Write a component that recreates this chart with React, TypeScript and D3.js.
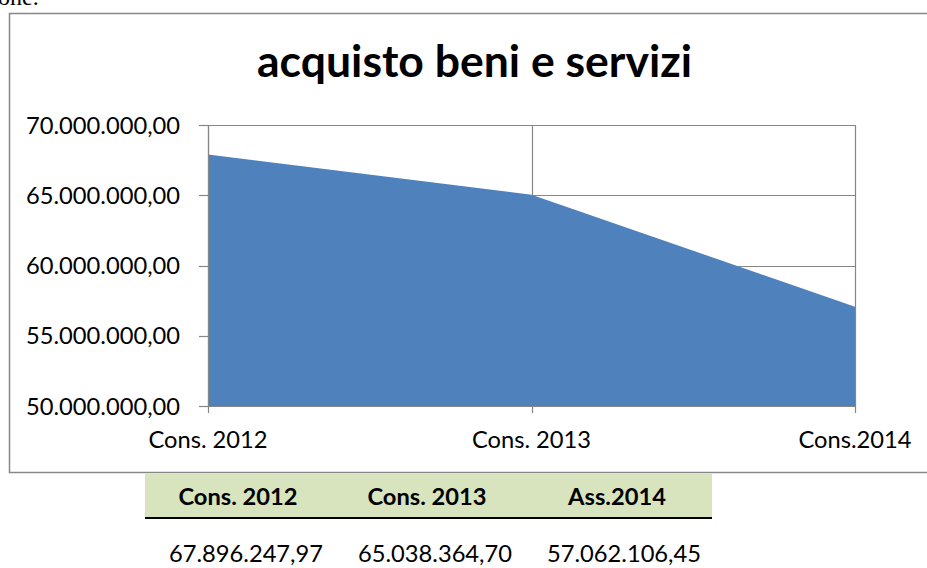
import React from "react";
import * as d3 from "d3";

const categories = ["Cons. 2012", "Cons. 2013", "Cons.2014"];
const values = [67896247.97, 65038364.7, 57062106.45];
const yTicks = [50000000, 55000000, 60000000, 65000000, 70000000];
const tableHeaders = ["Cons. 2012", "Cons. 2013", "Ass.2014"];
const tableValues = [67896247.97, 65038364.7, 57062106.45];
const title = "acquisto beni e servizi";

const itLocale = d3.formatLocale({
  decimal: ",",
  thousands: ".",
  grouping: [3],
  currency: ["", "€"],
});
const fmt = itLocale.format(",.2f");

const W = 927;
const H = 568;
const FONT = "Lato, 'Open Sans', sans-serif";
const FS = 23.7;

export default function App() {
  const plot = { left: 208, right: 855, top: 125, bottom: 406 };
  const x = d3
    .scalePoint<string>()
    .domain(categories)
    .range([plot.left, plot.right]);
  const y = d3
    .scaleLinear()
    .domain([50000000, 70000000])
    .range([plot.bottom, plot.top]);

  const area = d3
    .area<number>()
    .x((_, i) => x(categories[i]) as number)
    .y0(plot.bottom)
    .y1((d) => y(d));

  const tableCols = [238, 427, 617];
  const valueCols = [246, 435, 624];
  const grid = "#868686";

  return (
    <svg
      width={W}
      height={H}
      style={{ position: "absolute", left: 0, top: 0, background: "#fff" }}
    >
      <text
        x={-2}
        y={5}
        fontFamily="'Liberation Serif', 'Times New Roman', serif"
        fontSize={24}
        fill="#000"
      >
        one.
      </text>
      {/* chart border */}
      <path
        d={`M${W + 2},13.5 H9.5 V472.5 H${W + 2}`}
        fill="none"
        stroke="#878787"
        strokeWidth={1.5}
      />
      <text
        x={474.5}
        y={77}
        textAnchor="middle"
        fontFamily={FONT}
        fontWeight="bold"
        fontSize={44.5}
        fill="#000"
      >
        {title}
      </text>
      {/* horizontal gridlines */}
      {yTicks.map((t) => (
        <line
          key={"g" + t}
          x1={plot.left}
          x2={plot.right}
          y1={Math.round(y(t)) + 0.5}
          y2={Math.round(y(t)) + 0.5}
          stroke={grid}
          strokeWidth={1.2}
        />
      ))}
      {/* vertical gridlines */}
      {categories.map((c) => (
        <line
          key={"v" + c}
          x1={Math.round(x(c) as number) + 0.5}
          x2={Math.round(x(c) as number) + 0.5}
          y1={plot.top}
          y2={plot.bottom}
          stroke={grid}
          strokeWidth={1.2}
        />
      ))}
      <path d={area(values) || ""} fill="#4F81BD" />
      {/* axes */}
      <line
        x1={plot.left + 0.5}
        x2={plot.left + 0.5}
        y1={plot.top}
        y2={plot.bottom}
        stroke={grid}
        strokeWidth={1.2}
      />
      <line
        x1={plot.left}
        x2={plot.right}
        y1={plot.bottom + 0.5}
        y2={plot.bottom + 0.5}
        stroke={grid}
        strokeWidth={1.2}
      />
      {yTicks.map((t) => (
        <g key={"yt" + t}>
          <line
            x1={plot.left - 9}
            x2={plot.left}
            y1={Math.round(y(t)) + 0.5}
            y2={Math.round(y(t)) + 0.5}
            stroke={grid}
            strokeWidth={1.2}
          />
          <text
            x={180}
            y={y(t)}
            dy="0.36em"
            textAnchor="end"
            fontFamily={FONT}
            fontSize={FS}
            fill="#000"
          >
            {fmt(t)}
          </text>
        </g>
      ))}
      {categories.map((c) => (
        <g key={"xt" + c}>
          <line
            x1={Math.round(x(c) as number) + 0.5}
            x2={Math.round(x(c) as number) + 0.5}
            y1={plot.bottom}
            y2={plot.bottom + 7}
            stroke={grid}
            strokeWidth={1.2}
          />
          <text
            x={x(c) as number}
            y={448}
            textAnchor="middle"
            fontFamily={FONT}
            fontSize={FS}
            fill="#000"
          >
            {c}
          </text>
        </g>
      ))}
      {/* table */}
      <rect x={145} y={474} width={567} height={43} fill="#D7E4BD" />
      <line x1={145} x2={712} y1={518} y2={518} stroke="#000" strokeWidth={2} />
      {tableHeaders.map((h, i) => (
        <text
          key={"th" + h}
          x={tableCols[i]}
          y={505}
          textAnchor="middle"
          fontFamily={FONT}
          fontWeight="bold"
          fontSize={FS}
          fill="#000"
        >
          {h}
        </text>
      ))}
      {tableValues.map((v, i) => (
        <text
          key={"tv" + i}
          x={valueCols[i]}
          y={562}
          textAnchor="middle"
          fontFamily={FONT}
          fontSize={FS}
          fill="#000"
        >
          {fmt(v)}
        </text>
      ))}
    </svg>
  );
}
